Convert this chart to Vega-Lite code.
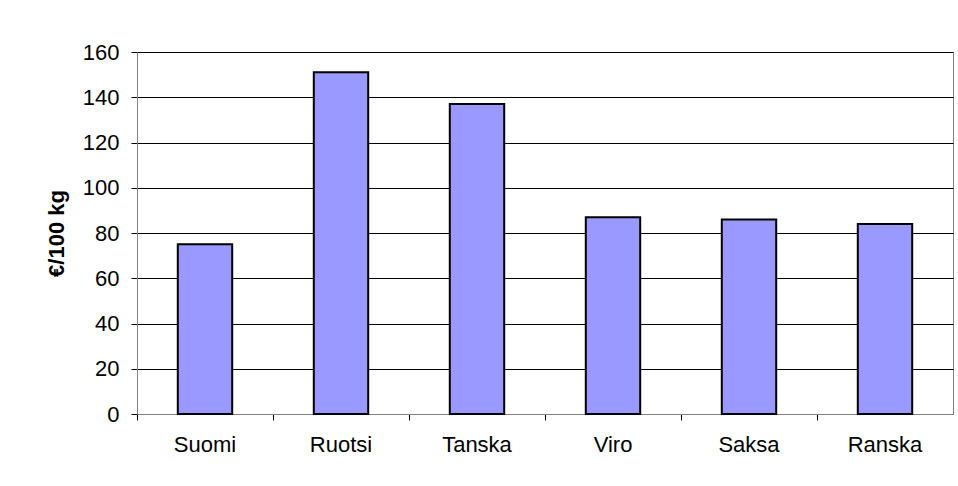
{
  "$schema": "https://vega.github.io/schema/vega-lite/v6.json",
  "width": 816,
  "height": 362,
  "autosize": "none",
  "padding": {"left": 137, "top": 52, "right": 5, "bottom": 72},
  "background": "white",
  "config": {
    "font": "Liberation Sans",
    "view": {"stroke": "#808080", "strokeWidth": 1}
  },
  "data": {
    "values": [
      {"maa": "Suomi", "hinta": 75},
      {"maa": "Ruotsi", "hinta": 151},
      {"maa": "Tanska", "hinta": 137},
      {"maa": "Viro", "hinta": 87},
      {"maa": "Saksa", "hinta": 86},
      {"maa": "Ranska", "hinta": 84}
    ]
  },
  "mark": {"type": "bar", "fill": "#9999FF", "stroke": "#000000", "strokeWidth": 2, "width": {"band": 0.4}},
  "encoding": {
    "x": {
      "field": "maa",
      "type": "nominal",
      "sort": null,
      "scale": {"paddingInner": 0, "paddingOuter": 0},
      "axis": {
        "title": null,
        "labelAngle": 0,
        "labelFontSize": 22,
        "labelColor": "#000",
        "labelPadding": 14,
        "bandPosition": 0,
        "tickSize": 6,
        "tickColor": "#000",
        "domainColor": "#808080",
        "grid": false
      }
    },
    "y": {
      "field": "hinta",
      "type": "quantitative",
      "scale": {"domain": [0, 160], "nice": false},
      "axis": {
        "title": "€/100 kg",
        "titleFontSize": 22,
        "titleFontWeight": "bold",
        "titleColor": "#000",
        "titlePadding": 14,
        "values": [0, 20, 40, 60, 80, 100, 120, 140, 160],
        "labelFontSize": 22,
        "labelColor": "#000",
        "labelPadding": 12,
        "tickSize": 6,
        "tickColor": "#000",
        "domainColor": "#808080",
        "grid": true,
        "gridColor": "#000",
        "gridOpacity": 1,
        "gridWidth": 1
      }
    }
  }
}
